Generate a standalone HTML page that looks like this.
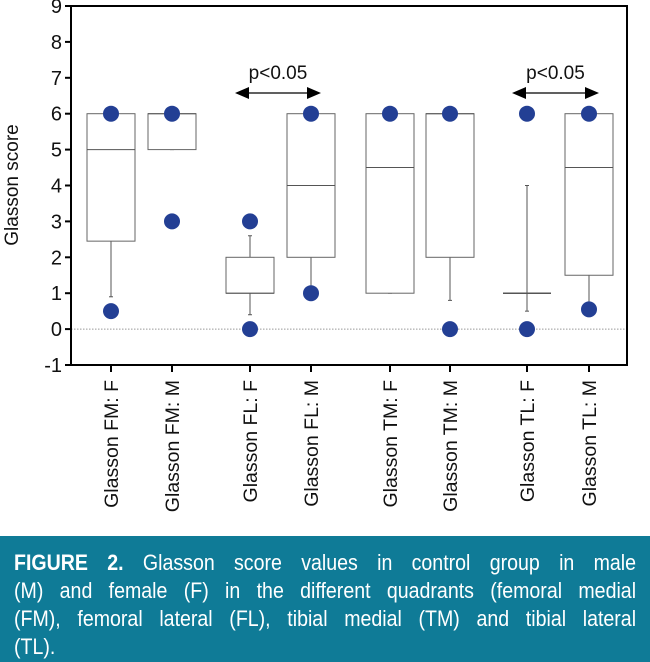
<!DOCTYPE html>
<html><head><meta charset="utf-8"><style>
body{margin:0;width:650px;height:662px;background:#fff;overflow:hidden;font-family:"Liberation Sans",sans-serif;}
#cap{position:absolute;left:0;top:536px;width:650px;height:126px;background:#0f7b97;color:#fff;font-size:22.5px;box-sizing:border-box;padding:13px 14px 0 14px;overflow:hidden;}
#cap div{width:715px;height:28px;line-height:28px;text-align:justify;text-align-last:justify;white-space:nowrap;transform:scaleX(0.87);transform-origin:0 0;}
#cap div.last{text-align-last:left;}
</style></head><body>
<svg id="chart" width="650" height="536" style="position:absolute;left:0;top:0" font-family="Liberation Sans, sans-serif"></svg>
<div id="cap">
<div><b>FIGURE 2.</b> Glasson score values in control group in male</div>
<div>(M) and female (F) in the different quadrants (femoral medial</div>
<div>(FM), femoral lateral (FL), tibial medial (TM) and tibial lateral</div>
<div class="last">(TL).</div>
</div>
<script>
const categories=["Glasson FM: F","Glasson FM: M","Glasson FL: F","Glasson FL: M","Glasson TM: F","Glasson TM: M","Glasson TL: F","Glasson TL: M"];
const q1=[2.45,5,1,2,1,2,1,1.5];
const median=[5,6,1,4,4.5,6,1,4.5];
const q3=[6,6,2,6,6,6,1,6];
const whiskLow=[0.9,5,0.4,1,1,0.8,0.5,0.55];
const whiskHigh=[6,6,2.6,6,6,6,4,6];
const points=[[6,0.5],[6,3],[3,0],[6,1],[6],[6,0],[6,0],[6,0.55]];
const yTicks=[-1,0,1,2,3,4,5,6,7,8,9];
const catX=[111,172,250,311,390,450,527,589];
const sig=[[2,3],[6,7]];
const sigLabel=["p<0.05","p<0.05"];

const svg=document.getElementById('chart');
const NS="http://www.w3.org/2000/svg";
const L=71,R=627,T=6,B=365,yMin=-1,yMax=9;
const y=v=>B-(v-yMin)/(yMax-yMin)*(B-T);
const x=i=>catX[i];
function mk(tag,attrs,parent){const e=document.createElementNS(NS,tag);for(const k in attrs)e.setAttribute(k,attrs[k]);(parent||svg).appendChild(e);return e;}

let z=mk('line',{x1:L,x2:R,y1:y(0),y2:y(0),stroke:'#999','stroke-width':1,'stroke-dasharray':'1.5,1.5'});



categories.forEach((c,i)=>{
  const g=mk('g',{});
  
  
  const cx=x(i),hw=24;
  mk('line',{x1:cx,x2:cx,y1:y(whiskLow[i]),y2:y(q1[i]),stroke:'#555','stroke-width':1},g);
  mk('line',{x1:cx,x2:cx,y1:y(whiskHigh[i]),y2:y(q3[i]),stroke:'#555','stroke-width':1},g);
  mk('line',{x1:cx-2,x2:cx+2,y1:y(whiskLow[i]),y2:y(whiskLow[i]),stroke:'#555'},g);
  mk('line',{x1:cx-2,x2:cx+2,y1:y(whiskHigh[i]),y2:y(whiskHigh[i]),stroke:'#555'},g);
  if(q3[i]>q1[i]) mk('rect',{x:cx-hw,y:y(q3[i]),width:2*hw,height:y(q1[i])-y(q3[i]),fill:'#fff',stroke:'#666','stroke-width':1},g);
  mk('line',{x1:cx-hw,x2:cx+hw,y1:y(median[i]),y2:y(median[i]),stroke:'#555','stroke-width':q3[i]>q1[i]?1:1.5},g);
  points[i].forEach(v=>{
    const p=mk('circle',{cx:cx,cy:y(v),r:8,fill:'#233f94'});
    
    
  });
});

let ax=mk('path',{d:`M${L},${T} V${B} H${R} V${T} Z`,fill:'none',stroke:'#000','stroke-width':2});


yTicks.forEach(t=>{
  mk('line',{x1:L-6,x2:L,y1:y(t),y2:y(t),stroke:'#000','stroke-width':2});
  const tx=mk('text',{x:L-9,y:y(t)+7,'text-anchor':'end','font-size':20,fill:'#111'});
  tx.textContent=t;
  
  
});
let yt=mk('text',{x:18,y:185,'text-anchor':'middle','font-size':19,fill:'#111',transform:'rotate(-90 18 185)'});
yt.textContent='Glasson score';


categories.forEach((c,i)=>{
  mk('line',{x1:x(i),x2:x(i),y1:B,y2:B+7,stroke:'#000','stroke-width':2});
  const tx=mk('text',{x:x(i)+7,y:380,'text-anchor':'end','font-size':19.5,fill:'#111',transform:`rotate(-90 ${x(i)+7} 380)`});
  tx.textContent=c;
  
  
});
sig.forEach((s,k)=>{
  const x1=x(s[0])-15,x2=x(s[1])+10,yy=93;
  const g=mk('g',{});
  
  
  mk('line',{x1:x1+8,x2:x2-8,y1:yy,y2:yy,stroke:'#000','stroke-width':1.2},g);
  mk('path',{d:`M${x1},${yy} l14,-6 v12 z M${x2},${yy} l-14,-6 v12 z`,fill:'#000'},g);
  const t=mk('text',{x:(x1+x2)/2,y:79,'text-anchor':'middle','font-size':19,fill:'#111'},g);
  t.textContent=sigLabel[k];
});
</script>
</body></html>
